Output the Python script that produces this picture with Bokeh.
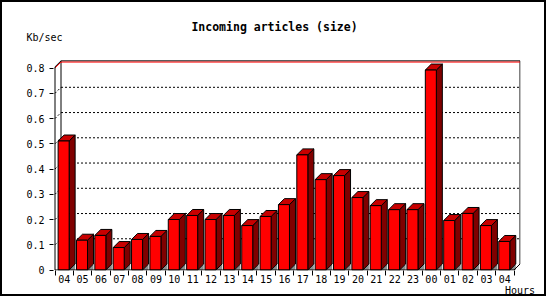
from bokeh.plotting import figure
from bokeh.models import (Range1d, LinearAxis, FixedTicker, CustomJSTickFormatter,
                          NumeralTickFormatter, Label)
from bokeh.embed import file_html
from bokeh.resources import INLINE

# ---- data ----
hours = ["04", "05", "06", "07", "08", "09", "10", "11", "12", "13", "14", "15",
         "16", "17", "18", "19", "20", "21", "22", "23", "00", "01", "02", "03", "04"]
size_kb = [0.511, 0.118, 0.137, 0.089, 0.121, 0.133, 0.200, 0.216, 0.200, 0.216,
           0.176, 0.212, 0.259, 0.456, 0.358, 0.374, 0.287, 0.255, 0.239, 0.239,
           0.792, 0.196, 0.224, 0.176, 0.113]
y_ticks = [0, 0.1, 0.2, 0.3, 0.4, 0.5, 0.6, 0.7, 0.8]
y_max = 0.8
title_text = "Incoming articles (size)"
y_unit = "Kb/sec"
x_unit = "Hours"

# ---- layout (pixels) ----
W, H = 546, 296
PX = 18.36          # px per category
PY = 253.4          # px per value unit
DX = 6 / PX         # 3D depth in data units
DY = 6 / PY
ML, MR, MT, MB = 51, 28, 0, 27
n = len(hours)

x_start = -1.5 / PX
x_end = x_start + (W - ML - MR) / PX
y_start = -0.5 / PY
y_end = y_start + (H - MT - MB) / PY

FONT = "DejaVu Sans Mono"


def dx_of(fx_):
    return (fx_ - 52.5) / PX


def dy_of(fy_):
    return (268.5 - fy_) / PY


p = figure(width=W, height=H, output_backend="svg", toolbar_location=None,
           x_axis_type=None, y_axis_type=None,
           x_range=Range1d(x_start, x_end), y_range=Range1d(y_start, y_end),
           min_border_left=ML, min_border_right=MR, min_border_top=MT, min_border_bottom=MB)
p.outline_line_color = None
p.background_fill_color = "white"
p.border_fill_color = "white"
p.styles = {"border": "2px solid black"}

# y axis (values)
yax = LinearAxis(ticker=FixedTicker(ticks=y_ticks, minor_ticks=[]),
                 formatter=NumeralTickFormatter(format="0.[0]"),
                 axis_line_color=None, major_tick_out=4, major_tick_in=0,
                 minor_tick_out=0, minor_tick_in=0, major_label_standoff=5,
                 major_label_text_font=FONT, major_label_text_font_size="10px",
                 major_label_text_color="black", major_tick_line_color="black")
p.add_layout(yax, "left")

# unit label of the y axis, placed above the axis top
unit_axis = LinearAxis(ticker=FixedTicker(ticks=[dy_of(34.7)], minor_ticks=[]),
                       formatter=CustomJSTickFormatter(args=dict(t=y_unit), code="return t;"),
                       axis_line_color=None, major_tick_out=0, major_tick_in=0,
                       minor_tick_out=0, minor_tick_in=0, major_label_standoff=-39,
                       major_label_text_font=FONT, major_label_text_font_size="10px",
                       major_label_text_color="black")
p.add_layout(unit_axis, "left")

# x axis (hours): labels at centres, tick marks at boundaries
centers = [i + 0.5 for i in range(n)]
bounds = list(range(n + 1))
xax = LinearAxis(ticker=FixedTicker(ticks=centers, minor_ticks=bounds),
                 formatter=CustomJSTickFormatter(args=dict(labels=hours),
                                                 code="return labels[Math.floor(tick)];"),
                 axis_line_color=None, major_tick_out=0, major_tick_in=0,
                 minor_tick_out=5, minor_tick_in=0, minor_tick_line_color="black",
                 major_label_standoff=-1,
                 major_label_text_font=FONT, major_label_text_font_size="10px",
                 major_label_text_color="black")
p.add_layout(xax, "below")

# unit label of the x axis, under the last tick labels
hours_axis = LinearAxis(ticker=FixedTicker(ticks=[dx_of(517.5)], minor_ticks=[]),
                        formatter=CustomJSTickFormatter(args=dict(t=x_unit), code="return t;"),
                        axis_line_color=None, major_tick_out=0, major_tick_in=0,
                        minor_tick_out=0, minor_tick_in=0, major_label_standoff=-1,
                        major_label_text_font=FONT, major_label_text_font_size="10px",
                        major_label_text_color="black")
p.add_layout(hours_axis, "below")

# back wall grid (dotted)
grid_vals = [t for t in y_ticks if 0 < t < y_max]
p.multi_line(xs=[[DX, n + DX] for _ in grid_vals],
             ys=[[t + DY, t + DY] for t in grid_vals],
             line_color="black", line_dash="2 2", line_width=1)
p.multi_line(xs=[[0, DX] for _ in grid_vals],
             ys=[[t, t + DY] for t in grid_vals],
             line_color="black", line_dash="2 2", line_width=1)

# walls / frame lines
top_black = y_max + DY + 1.2 / PY
p.multi_line(xs=[[DX, DX], [n + DX, n + DX], [DX, n + DX], [0, DX]],
             ys=[[DY, top_black], [DY, top_black], [top_black, top_black],
                 [y_max + 1.2 / PY, top_black]],
             line_color="black", line_width=1)
p.multi_line(xs=[[0, DX], [DX, n + DX]],
             ys=[[y_max, y_max + DY], [y_max + DY, y_max + DY]],
             line_color="red", line_width=1)

# bars
BAR_OFF, BAR_W = 0.17, 0.6
fx, fy, sx, sy, tx, ty, shx, shy = [], [], [], [], [], [], [], []
for i, v in enumerate(size_kb):
    x0 = i + BAR_OFF
    x1 = x0 + BAR_W
    fx.append([x0, x1, x1, x0]); fy.append([0, 0, v, v])
    tx.append([x0, x1, x1 + DX, x0 + DX]); ty.append([v, v, v + DY, v + DY])
    sx.append([x1, x1 + DX, x1 + DX, x1]); sy.append([0, DY, v + DY, v])
    shx.append([x1, x1 + DX, x1 + DX]); shy.append([0, 0, DY])

p.patches(shx, shy, fill_color="#8c8c8c", line_color=None)
p.patches(sx, sy, fill_color="#800000", line_color="black", line_width=1)
p.patches(tx, ty, fill_color="#c80000", line_color="black", line_width=1)
p.patches(fx, fy, fill_color="#ff0000", line_color="black", line_width=1)

# front axis + floor
p.multi_line(xs=[[0, 0], [0, n], [n, n + DX]],
             ys=[[0, y_max + 1.2 / PY], [0, 0], [0, DY]],
             line_color="black", line_width=1)

# chart title (inside the tall frame)
p.add_layout(Label(x=dx_of(272), y=dy_of(25), text=title_text, text_align="center",
                   text_baseline="middle", text_font=FONT, text_font_size="11.5px",
                   text_font_style="bold", text_color="black"))

open("out.html", "w").write(file_html(p, INLINE))
